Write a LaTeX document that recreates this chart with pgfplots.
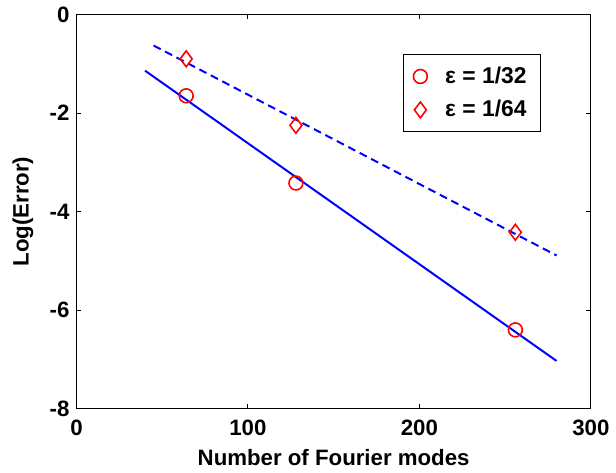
\documentclass[border=0pt]{standalone}
\usepackage{fontspec}
\setmainfont{Liberation Sans}
\usepackage{pgfplots}
\pgfplotsset{compat=1.18}
\begin{document}
\begin{tikzpicture}
  \begin{axis}[
      name=main,
      scale only axis,
      width=259pt,
      height=198.5pt,
      xmin=0, xmax=300,
      ymin=-8, ymax=0,
      xtick={0,100,200,300},
      ytick={-8,-6,-4,-2,0},
      tick align=inside,
      major tick length=2.5pt,
      tick style={black, line width=0.5pt},
      axis line style={line width=0.6pt},
      /pgf/number format/assume math mode=true,
      ticklabel style={font=\fontsize{11.2}{13}\selectfont\bfseries},
      xticklabel style={yshift=-2pt},
      xlabel={Number of Fourier modes},
      ylabel={Log(Error)},
      xlabel style={yshift=0pt, font=\fontsize{11.2}{13}\selectfont\bfseries},
      every axis y label/.style={at={(axis description cs:0,0.5)},
          anchor=center, rotate=90, yshift=27pt,
          font=\fontsize{11.2}{13}\selectfont\bfseries},
      legend cell align=left,
      legend style={
          at={(0.903,0.899)}, anchor=north east,
          draw=black, line width=0.5pt,
          font=\fontsize{11.5}{13}\selectfont\bfseries,
          inner xsep=5pt, inner ysep=4pt,
          row sep=3pt,
          /tikz/every odd column/.append style={column sep=7pt},
      },
  ]
  % fitted lines
  \addplot[blue, line width=1pt, forget plot] coordinates {
      (40, -1.14)
      (280, -7.03)
  };
  \addplot[blue, line width=1pt, dash pattern=on 4pt off 2.5pt, forget plot] coordinates {
      (45, -0.63)
      (280, -4.89)
  };
  % data points
  \addplot[only marks, red, mark=o, mark size=3.5pt, line width=0.8pt] coordinates {
      (64, -1.65)
      (128, -3.42)
      (256, -6.40)
  };
  \addlegendentry{ε = 1/32}
  \addplot[only marks, red, mark=diamond, mark size=4pt, line width=0.8pt] coordinates {
      (64, -0.90)
      (128, -2.25)
      (256, -4.42)
  };
  \addlegendentry{ε = 1/64}
  \end{axis}
  \path (main.south west) ++(-38.5pt,0pt);
  \path (main.north east) ++(10.5pt,0pt);
\end{tikzpicture}
\end{document}
